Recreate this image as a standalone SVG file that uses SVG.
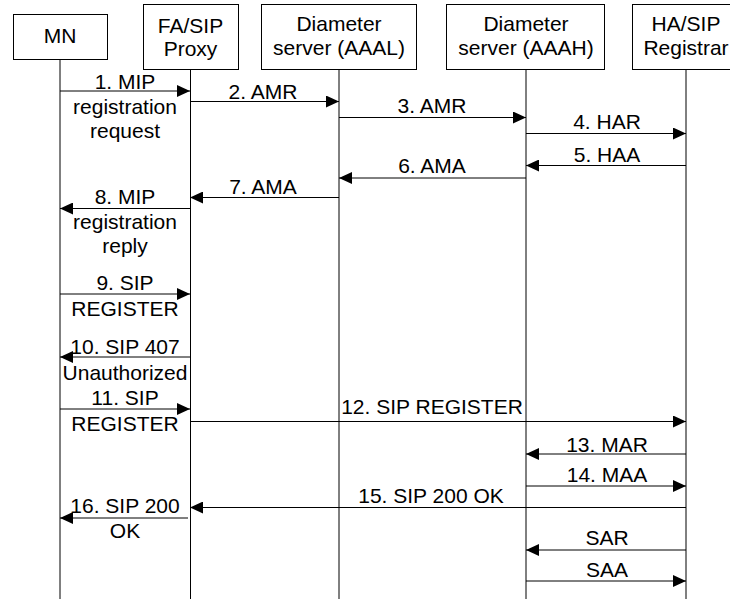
<svg xmlns="http://www.w3.org/2000/svg" width="730" height="599" viewBox="0 0 730 599">
<style>
  .box { fill: #fff; stroke: #000; stroke-width: 1; }
  .life { stroke: #000; stroke-width: 1; fill: none; }
  .msg { stroke: #000; stroke-width: 1; fill: none; marker-end: url(#ah); }
  text { font-family: "Liberation Sans", Arial, sans-serif; font-size: 21px; fill: #000; text-anchor: middle; }
</style>
<defs>
  <marker id="ah" markerUnits="userSpaceOnUse" markerWidth="13" markerHeight="12" refX="13" refY="6" orient="auto">
    <path d="M0,0 L13,6 L0,12 Z" fill="#000"/>
  </marker>
</defs>
<rect width="730" height="599" fill="#fff"/>

<g id="lifelines">
  <line class="life" x1="60" y1="59" x2="60" y2="599"/>
  <line class="life" x1="190.5" y1="69" x2="190.5" y2="599"/>
  <line class="life" x1="339" y1="69" x2="339" y2="599"/>
  <line class="life" x1="526" y1="69" x2="526" y2="599"/>
  <line class="life" x1="686" y1="69" x2="686" y2="599"/>
</g>

<g id="node-mn">
  <rect class="box" x="13.5" y="14.5" width="94" height="45"/>
  <text x="60" y="43">MN</text>
</g>
<g id="node-fa">
  <rect class="box" x="143.5" y="4.5" width="95" height="65"/>
  <text x="190.5" y="33">FA/SIP</text>
  <text x="190.5" y="56">Proxy</text>
</g>
<g id="node-aaal">
  <rect class="box" x="261.5" y="4.5" width="155" height="65"/>
  <text x="339" y="31">Diameter</text>
  <text x="339" y="55">server (AAAL)</text>
</g>
<g id="node-aaah">
  <rect class="box" x="446.5" y="4.5" width="158" height="65"/>
  <text x="526" y="31">Diameter</text>
  <text x="526" y="55">server (AAAH)</text>
</g>
<g id="node-ha">
  <rect class="box" x="632.5" y="4.5" width="108" height="65"/>
  <text x="686" y="31">HA/SIP</text>
  <text x="686" y="55">Registrar</text>
</g>

<g id="connectors">
  <line class="msg" x1="60" y1="91" x2="190" y2="91"/>
  <line class="msg" x1="190" y1="101.5" x2="339" y2="101.5"/>
  <line class="msg" x1="339" y1="117.5" x2="526" y2="117.5"/>
  <line class="msg" x1="526" y1="133.5" x2="686" y2="133.5"/>
  <line class="msg" x1="686" y1="165.5" x2="526" y2="165.5"/>
  <line class="msg" x1="526" y1="178" x2="339" y2="178"/>
  <line class="msg" x1="339" y1="197.5" x2="190" y2="197.5"/>
  <line class="msg" x1="190" y1="208.5" x2="60" y2="208.5"/>
  <line class="msg" x1="60" y1="294" x2="190" y2="294"/>
  <line class="msg" x1="190" y1="357" x2="60" y2="357"/>
  <line class="msg" x1="60" y1="409" x2="190" y2="409"/>
  <line class="msg" x1="190" y1="421.5" x2="686" y2="421.5"/>
  <line class="msg" x1="686" y1="454" x2="526" y2="454"/>
  <line class="msg" x1="526" y1="486" x2="686" y2="486"/>
  <line class="msg" x1="686" y1="507.5" x2="190" y2="507.5"/>
  <line class="msg" x1="188" y1="518" x2="60" y2="518"/>
  <line class="msg" x1="686" y1="550" x2="526" y2="550"/>
  <line class="msg" x1="526" y1="581" x2="686" y2="581"/>
</g>

<g id="labels">
  <text x="125" y="89">1. MIP</text>
  <text x="125" y="114">registration</text>
  <text x="125" y="138">request</text>
  <text x="263" y="99">2. AMR</text>
  <text x="432" y="113">3. AMR</text>
  <text x="607" y="129">4. HAR</text>
  <text x="607" y="162">5. HAA</text>
  <text x="432" y="173">6. AMA</text>
  <text x="263" y="194">7. AMA</text>
  <text x="125" y="204">8. MIP</text>
  <text x="125" y="229">registration</text>
  <text x="125" y="253">reply</text>
  <text x="125" y="290">9. SIP</text>
  <text x="125" y="316">REGISTER</text>
  <text x="125" y="353.5">10. SIP 407</text>
  <text x="125" y="380">Unauthorized</text>
  <text x="125" y="405">11. SIP</text>
  <text x="125" y="431">REGISTER</text>
  <text x="432" y="414">12. SIP REGISTER</text>
  <text x="607" y="451.5">13. MAR</text>
  <text x="607" y="482">14. MAA</text>
  <text x="431" y="503">15. SIP 200 OK</text>
  <text x="125" y="513">16. SIP 200</text>
  <text x="125" y="538">OK</text>
  <text x="607" y="545">SAR</text>
  <text x="607" y="577">SAA</text>
</g>
</svg>
